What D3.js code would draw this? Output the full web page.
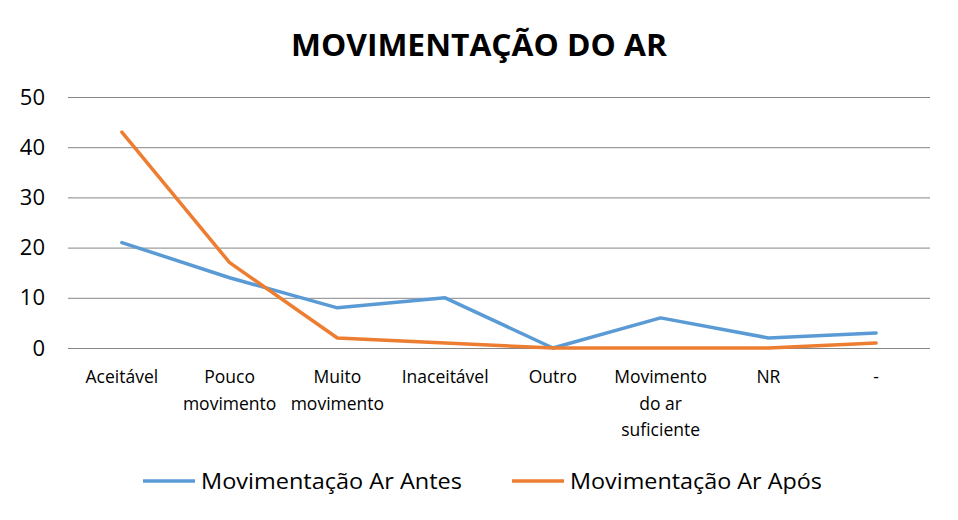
<!DOCTYPE html>
<html><head><meta charset="utf-8">
<script src="https://cdn.jsdelivr.net/npm/d3@7"></script>
<style>body{margin:0;background:#fff}svg{display:block}text{font-family:"Open Sans",sans-serif}</style>
</head><body>
<svg id="c" width="958" height="520"></svg>
<script>
const categories = [["Aceitável"],["Pouco","movimento"],["Muito","movimento"],["Inaceitável"],["Outro"],["Movimento","do ar","suficiente"],["NR"],["-"]];
const antes = [21, 14, 8, 10, 0, 6, 2, 3];
const apos = [43, 17, 2, 1, 0, 0, 0, 1];
const yTicks = [0, 10, 20, 30, 40, 50];
const seriesNames = ["Movimentação Ar Antes", "Movimentação Ar Após"];
const colors = ["#5B9BD5", "#ED7D31"];

(function () {
const svg = d3.select("#c");
const pL = 68, pR = 930, pT = 97, pB = 348;
const x = d3.scaleBand().domain(d3.range(categories.length)).range([pL, pR]);
const y = d3.scaleLinear().domain([0, 50]).range([pB, pT]);

svg.append("text").attr("x", 479).attr("y", 56).attr("text-anchor", "middle")
  .attr("font-size", 31).attr("font-weight", "bold").attr("textLength", 376).attr("lengthAdjust","spacingAndGlyphs").text("MOVIMENTAÇÃO DO AR");

const yAxis = d3.axisLeft(y).tickValues(yTicks).tickSize(-(pR - pL)).tickPadding(23);
const gy = svg.append("g").attr("transform", `translate(${pL},0)`).call(yAxis);
gy.select(".domain").remove();
gy.selectAll(".tick line").attr("stroke", "#868686").attr("stroke-width", 1);
gy.selectAll(".tick text").attr("font-size", 22).attr("fill", "#000").attr("font-family", '"Open Sans",sans-serif');

const gx = svg.append("g");
categories.forEach((lines, i) => {
  const t = gx.append("text").attr("text-anchor", "middle").attr("font-size", 17.5).attr("fill", "#000");
  lines.forEach((l, j) => t.append("tspan").attr("x", x(i) + x.bandwidth() / 2).attr("y", 383 + j * 26.5).text(l));
});

const line = d3.line().x((d, i) => x(i) + x.bandwidth() / 2).y(d => y(d));
[antes, apos].forEach((s, k) => {
  svg.append("path").datum(s).attr("d", line).attr("fill", "none")
    .attr("stroke", colors[k]).attr("stroke-width", 3.5).attr("stroke-linejoin", "round").attr("stroke-linecap", "round");
});

const legX = [143, 512];
seriesNames.forEach((n, k) => {
  svg.append("line").attr("x1", legX[k]).attr("x2", legX[k] + 52).attr("y1", 481).attr("y2", 481)
    .attr("stroke", colors[k]).attr("stroke-width", 3.5);
  svg.append("text").attr("x", legX[k] + 58).attr("y", 489).attr("font-size", 21).attr("fill", "#000")
    .attr("textLength", k === 0 ? 261 : 252).attr("lengthAdjust","spacingAndGlyphs").text(n);
});
})();
</script>
</body></html>
